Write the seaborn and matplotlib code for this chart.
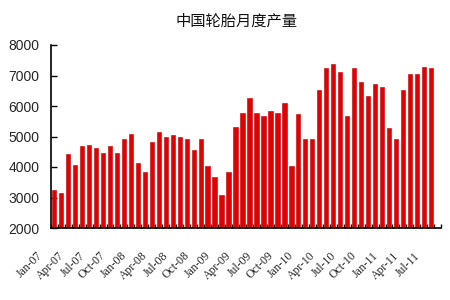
import matplotlib
matplotlib.use("Agg")
import matplotlib.pyplot as plt
import seaborn as sns
import pandas as pd
import numpy as np

months = ["Jan", "Feb", "Mar", "Apr", "May", "Jun", "Jul", "Aug", "Sep", "Oct", "Nov", "Dec"]
years = ["07", "08", "09", "10", "11"]
categories = [f"{m}-{y}" for y in years for m in months][:56]

output = [
    3230, 3140, 4430, 4050, 4700, 4730, 4610, 4460, 4700, 4460, 4910, 5080,
    4120, 3850, 4820, 5150, 5000, 5050, 4970, 4910, 4550, 4910, 4020, 3660,
    3090, 3830, 5300, 5780, 6250, 5770, 5680, 5830, 5770, 6110, 4020, 5740,
    4910, 4910, 6540, 7230, 7380, 7120, 5680, 7230, 6790, 6340, 6730, 6630,
    5290, 4910, 6540, 7050, 7050, 7290, 7230,
]
yticks = [2000, 3000, 4000, 5000, 6000, 7000, 8000]
title = "中国轮胎月度产量"

values = output + [np.nan] * (len(categories) - len(output))
df = pd.DataFrame({"month": categories, "value": values})

sns.set_style("white")
plt.rcParams['font.family'] = ['Liberation Sans Narrow', 'Liberation Sans', 'DejaVu Sans']

fig = plt.figure(figsize=(4.5, 3), dpi=100)
ax = fig.add_axes([0.1127, 0.24, 0.868, 0.61])

sns.barplot(data=df, x="month", y="value", color="#e30000", width=0.62,
            saturation=1, ax=ax, edgecolor="#c00000", linewidth=0.4)

ax.set_xlim(-0.5, len(categories) - 0.5)
ax.set_ylim(2000, 8000)
ax.set_yticks(yticks)
ax.set_yticklabels([str(v) for v in yticks], fontsize=10)
ax.set_xlabel("")
ax.set_ylabel("")

# category labels every quarter, placed below the axis with a diagonal offset
ax.set_xticks([])
for i in range(0, len(output), 3):
    ax.annotate(categories[i], xy=(i, 0), xycoords=("data", "axes fraction"),
                xytext=(-13 * 0.72, -26 * 0.72), textcoords="offset points",
                rotation=45, ha="right", va="center", rotation_mode="anchor",
                fontsize=8.5, family=['Liberation Serif', 'DejaVu Serif'], annotation_clip=False)
ax.set_xticks(np.arange(-0.5, len(categories), 1), minor=True)
ax.tick_params(axis="x", which="minor", direction="in", length=3, width=1, color="black", bottom=True)
ax.tick_params(axis="y", direction="in", length=4, width=1, color="black", left=True, pad=8)

for s in ["top", "right"]:
    ax.spines[s].set_visible(False)
for s in ["left", "bottom"]:
    ax.spines[s].set_color("black")
    ax.spines[s].set_linewidth(1.2)

fig.text(0.525, 0.928, title, ha="center", va="center", fontsize=11,
         family=['Noto Sans CJK SC', 'DejaVu Sans'], color="#111111")

fig.savefig("out.png", dpi=100, facecolor="white")
